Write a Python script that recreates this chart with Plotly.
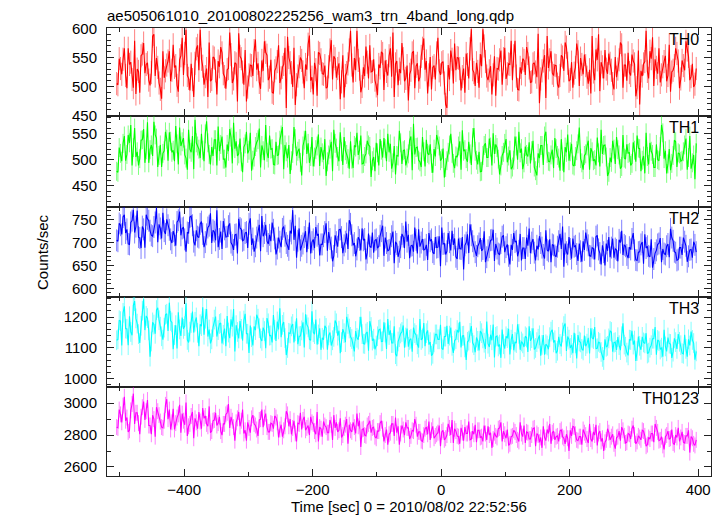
import plotly.graph_objects as go

# ---- data (count rates) ----
# even bins: t = -505, -501, ... ; odd bins: t = -503, -499, ...  (2 s bins)
t_start = -505
t_step = 2

th0_even = [505, 548, 521, 566, 497, 538, 512, 579, 530, 489, 556, 523, 541, 502, 587, 518, 533, 495, 561, 527,
            544, 509, 572, 536, 491, 553, 520, 598, 514, 539, 482, 565, 528, 547, 503, 531, 576, 512, 549, 486,
            534, 558, 517, 529, 593, 506, 541, 474, 552, 525, 563, 499, 537, 518, 581, 540, 496, 527, 559, 511,
            546, 488, 532, 571, 515, 538, 463, 550, 524, 567, 503, 534, 545, 497, 529, 588, 516, 541, 484, 557,
            522, 536, 499, 563, 512, 548, 531, 478, 554, 519, 539, 596, 507, 528, 545, 490, 533, 569, 514, 525,
            547, 501, 538, 560, 494, 526, 553, 517, 482, 544, 530, 575, 509, 536, 521, 558, 497, 540, 516, 566,
            529, 488, 551, 533, 512, 584, 520, 543, 469, 537, 562, 505, 528, 549, 493, 531, 557, 514, 599, 524,
            541, 498, 535, 570, 518, 527, 486, 552, 531, 546, 503, 567, 522, 538, 511, 579, 495, 533, 548, 520,
            557, 507, 539, 525, 591, 513, 544, 480, 532, 561, 519, 536, 498, 554, 527, 568, 509, 542, 523, 574,
            501, 538, 555, 516, 529, 587, 511, 546, 492, 534, 563, 522, 540, 505, 551, 530, 576, 498, 537, 558,
            519, 544, 483, 562, 527, 539, 596, 514, 548, 501, 533, 566, 520, 543, 509, 572, 525, 536, 557, 497,
            545, 528, 563, 511, 539, 504]
th0_odd = [503, 531, 547, 519, 566, 542, 498, 487, 526, 553, 575, 538, 511, 524, 590, 549, 506, 479, 515, 537,
           561, 528, 533, 502, 546, 584, 557, 519, 493, 512, 540, 571, 598, 535, 517, 482, 509, 551, 527, 544,
           568, 522, 496, 531, 555, 513, 539, 592, 548, 503, 474, 520, 536, 562, 529, 507, 545, 578, 554, 516,
           490, 527, 543, 506, 533, 567, 586, 541, 499, 468, 518, 550, 525, 538, 573, 510, 486, 529, 559, 546,
           521, 497, 534, 580, 552, 515, 540, 508, 481, 524, 563, 537, 549, 596, 530, 500, 518, 542, 571, 526,
           511, 485, 532, 557, 545, 519, 566, 593, 539, 502, 523, 548, 514, 476, 528, 561, 535, 509, 552, 583,
           544, 520, 495, 536, 558, 527, 541, 506, 463, 512, 547, 574, 550, 531, 517, 489, 538, 565, 529, 501,
           526, 556, 599, 543, 511, 535, 520, 484, 530, 562, 548, 513, 539, 579, 553, 518, 494, 522, 545, 568,
           532, 508, 541, 516, 471, 527, 554, 587, 546, 523, 537, 504, 519, 551, 576, 540, 512, 498, 533, 560,
           549, 521, 536, 505, 488, 525, 564, 590, 542, 514, 530, 557, 528, 495, 516, 546, 572, 537, 510, 524,
           555, 539, 498, 469, 518, 543, 526, 561, 585, 547, 522, 507, 534, 553, 519, 491, 528, 566, 544, 513,
           536, 578, 552, 517, 499, 531]

th1_even = [478, 523, 497, 545, 510, 532, 489, 560, 515, 502, 538, 494, 571, 519, 507, 547, 486, 528, 512, 553,
            498, 535, 518, 564, 491, 526, 541, 503, 557, 514, 482, 532, 520, 549, 497, 573, 510, 524, 538, 489,
            516, 544, 501, 529, 558, 493, 521, 507, 540, 476, 530, 512, 551, 499, 525, 538, 485, 517, 566, 503,
            520, 491, 534, 509, 547, 482, 515, 528, 498, 562, 507, 521, 470, 537, 511, 494, 543, 505, 526, 488,
            513, 539, 496, 520, 478, 531, 506, 552, 490, 517, 502, 535, 484, 524, 509, 546, 493, 511, 528, 467,
            505, 532, 489, 518, 541, 497, 514, 483, 526, 508, 555, 492, 519, 503, 537, 480, 510, 524, 496, 543,
            487, 512, 529, 475, 506, 538, 498, 521, 485, 514, 549, 493, 507, 526, 481, 516, 502, 534, 490, 560,
            499, 515, 478, 527, 504, 540, 489, 511, 523, 472, 508, 531, 495, 518, 486, 544, 500, 513, 482, 525,
            506, 493, 536, 479, 512, 527, 490, 553, 497, 509, 484, 521, 503, 539, 476, 514, 498, 530, 488, 517,
            561, 494, 508, 526, 481, 515, 500, 542, 487, 511, 528, 469, 504, 536, 492, 519, 483, 547, 501, 512,
            489, 533, 496, 522, 478, 507, 551, 491, 516, 485, 529, 498, 566, 502, 474, 520, 493, 537, 486, 511,
            499, 528, 481, 545, 494, 463]
th1_odd = [476, 512, 531, 498, 547, 566, 523, 505, 489, 537, 558, 519, 494, 528, 572, 541, 508, 486, 517, 539,
           552, 514, 497, 530, 561, 534, 509, 481, 520, 545, 576, 526, 503, 518, 549, 532, 491, 507, 538, 563,
           529, 501, 485, 516, 543, 570, 535, 511, 496, 524, 553, 518, 479, 505, 533, 559, 527, 499, 514, 546,
           521, 490, 508, 537, 562, 528, 503, 473, 512, 540, 516, 495, 526, 555, 531, 506, 487, 519, 548, 524,
           500, 469, 509, 534, 557, 522, 497, 515, 543, 510, 483, 501, 527, 551, 518, 492, 506, 536, 525, 498,
           478, 513, 539, 504, 521, 549, 530, 494, 472, 507, 532, 517, 489, 511, 544, 568, 523, 499, 486, 515,
           538, 509, 493, 520, 547, 526, 502, 466, 498, 528, 512, 484, 505, 535, 556, 519, 496, 511, 542, 516,
           491, 477, 508, 531, 504, 524, 550, 529, 501, 488, 514, 539, 507, 482, 499, 526, 553, 521, 494, 510,
           533, 517, 486, 470, 503, 527, 545, 512, 496, 519, 541, 508, 479, 497, 524, 548, 515, 490, 506, 530,
           502, 481, 511, 536, 522, 498, 489, 513, 557, 527, 505, 476, 495, 520, 543, 509, 487, 503, 529, 514,
           493, 518, 546, 521, 499, 474, 506, 532, 510, 485, 500, 525, 551, 517, 492, 480, 508, 534, 513, 497,
           515, 540, 504, 483, 509, 531]

th2_even = [705, 742, 718, 761, 729, 696, 748, 722, 770, 710, 735, 689, 752, 726, 714, 744, 701, 731, 765, 719,
            738, 707, 725, 693, 749, 716, 733, 680, 721, 758, 702, 727, 711, 746, 690, 718, 737, 699, 724, 771,
            708, 686, 729, 713, 742, 695, 717, 676, 732, 704, 721, 688, 753, 709, 692, 726, 681, 714, 739, 697,
            703, 728, 674, 711, 690, 735, 699, 684, 720, 706, 667, 731, 693, 712, 679, 744, 701, 688, 715, 672,
            696, 723, 682, 708, 659, 716, 691, 729, 677, 702, 686, 741, 694, 670, 712, 683, 705, 663, 720, 689,
            678, 707, 692, 725, 671, 699, 684, 714, 655, 697, 680, 719, 688, 702, 666, 694, 733, 676, 691, 708,
            685, 662, 703, 679, 712, 690, 648, 697, 674, 721, 683, 695, 669, 709, 686, 641, 700, 677, 716, 692,
            671, 698, 682, 725, 668, 690, 706, 660, 687, 674, 713, 679, 696, 652, 684, 701, 670, 719, 688, 664,
            693, 677, 708, 661, 685, 699, 673, 727, 681, 657, 694, 669, 703, 686, 647, 679, 712, 665, 691, 675,
            698, 658, 684, 705, 671, 689, 663, 716, 677, 694, 650, 682, 668, 709, 687, 659, 700, 673, 692, 666,
            685, 721, 662, 679, 696, 654, 688, 671, 707, 664, 683, 698, 657, 676, 692, 668, 711, 680, 661, 689,
            673, 702, 658, 684, 667, 695]
th2_odd = [703, 738, 756, 721, 697, 744, 772, 735, 712, 688, 729, 761, 748, 716, 734, 776, 740, 709, 725, 751,
           728, 699, 716, 745, 768, 731, 707, 722, 756, 738, 694, 713, 741, 719, 701, 733, 764, 727, 705, 690,
           724, 747, 712, 736, 700, 684, 718, 752, 729, 706, 723, 741, 695, 680, 711, 739, 758, 721, 703, 717,
           744, 709, 687, 702, 730, 715, 693, 726, 771, 737, 704, 683, 698, 725, 710, 676, 707, 734, 719, 696,
           714, 742, 723, 689, 671, 701, 728, 712, 694, 720, 749, 716, 699, 685, 706, 731, 708, 678, 692, 722,
           705, 688, 715, 737, 711, 682, 697, 724, 702, 669, 690, 713, 746, 717, 693, 680, 706, 729, 700, 684,
           695, 721, 707, 675, 689, 714, 733, 698, 681, 701, 726, 709, 664, 687, 712, 694, 718, 740, 703, 679,
           692, 710, 686, 657, 683, 705, 728, 697, 676, 699, 716, 690, 671, 695, 721, 704, 682, 661, 688, 711,
           731, 700, 678, 693, 714, 689, 665, 684, 707, 696, 672, 691, 719, 735, 698, 674, 686, 709, 693, 660,
           681, 703, 722, 694, 670, 687, 713, 685, 652, 679, 698, 712, 689, 667, 684, 706, 726, 695, 673, 690,
           708, 683, 661, 680, 701, 718, 692, 669, 645, 677, 696, 710, 686, 674, 697, 730, 704, 678, 663, 689,
           711, 693, 670, 685, 702, 679]

th3_even = [1125, 1190, 1108, 1235, 1162, 1203, 1141, 1252, 1179, 1116, 1221, 1158, 1197, 1072, 1183, 1146, 1230, 1169, 1127, 1208,
            1155, 1188, 1096, 1174, 1216, 1139, 1162, 1245, 1118, 1181, 1150, 1199, 1106, 1171, 1143, 1226, 1160, 1128, 1192, 1137,
            1178, 1115, 1163, 1204, 1132, 1169, 1089, 1152, 1187, 1124, 1211, 1146, 1173, 1108, 1158, 1195, 1131, 1166, 1099, 1180,
            1141, 1207, 1123, 1160, 1135, 1184, 1077, 1149, 1170, 1118, 1196, 1138, 1157, 1102, 1176, 1128, 1219, 1145, 1111, 1164,
            1133, 1172, 1094, 1150, 1125, 1189, 1140, 1083, 1161, 1119, 1178, 1136, 1104, 1155, 1127, 1201, 1114, 1147, 1091, 1168,
            1130, 1108, 1159, 1121, 1183, 1097, 1142, 1116, 1170, 1073, 1135, 1152, 1101, 1163, 1126, 1088, 1148, 1112, 1194, 1131,
            1106, 1157, 1119, 1081, 1144, 1128, 1175, 1095, 1137, 1113, 1166, 1084, 1129, 1150, 1102, 1140, 1061, 1124, 1171, 1109,
            1134, 1092, 1148, 1117, 1186, 1103, 1125, 1069, 1139, 1111, 1160, 1098, 1132, 1079, 1145, 1120, 1177, 1094, 1115, 1138,
            1087, 1123, 1164, 1100, 1130, 1075, 1142, 1112, 1096, 1153, 1118, 1083, 1136, 1105, 1171, 1090, 1127, 1110, 1149, 1066,
            1121, 1097, 1140, 1114, 1082, 1133, 1168, 1099, 1116, 1071, 1128, 1107, 1155, 1088, 1119, 1135, 1093, 1180, 1104, 1076,
            1126, 1111, 1058, 1137, 1094, 1118, 1148, 1085, 1109, 1130, 1078, 1122, 1101, 1159, 1089, 1114, 1068, 1131, 1097, 1120,
            1083, 1143, 1072, 1108, 1126, 1062]
th3_odd = [1128, 1187, 1214, 1163, 1109, 1152, 1238, 1196, 1145, 1172, 1259, 1204, 1157, 1121, 1176, 1223, 1190, 1138, 1166, 1211,
           1247, 1183, 1142, 1098, 1160, 1199, 1171, 1126, 1153, 1218, 1185, 1149, 1177, 1232, 1195, 1137, 1115, 1168, 1202, 1158,
           1181, 1143, 1106, 1150, 1193, 1226, 1174, 1131, 1162, 1189, 1146, 1084, 1135, 1170, 1208, 1164, 1123, 1155, 1197, 1140,
           1118, 1159, 1186, 1229, 1175, 1132, 1100, 1147, 1178, 1154, 1112, 1139, 1183, 1209, 1167, 1125, 1151, 1192, 1144, 1094,
           1127, 1165, 1141, 1108, 1136, 1180, 1156, 1119, 1148, 1201, 1163, 1129, 1089, 1133, 1169, 1145, 1113, 1152, 1187, 1124,
           1096, 1138, 1161, 1122, 1150, 1194, 1157, 1116, 1080, 1121, 1147, 1173, 1134, 1104, 1130, 1166, 1142, 1101, 1126, 1181,
           1148, 1111, 1075, 1118, 1144, 1128, 1099, 1137, 1172, 1140, 1107, 1124, 1158, 1185, 1139, 1102, 1120, 1149, 1117, 1086,
           1123, 1155, 1131, 1097, 1114, 1143, 1176, 1136, 1105, 1068, 1112, 1138, 1162, 1127, 1093, 1116, 1146, 1121, 1103, 1134,
           1170, 1132, 1095, 1119, 1141, 1110, 1078, 1108, 1135, 1159, 1125, 1091, 1113, 1150, 1179, 1137, 1100, 1083, 1115, 1142,
           1118, 1092, 1106, 1133, 1164, 1129, 1098, 1120, 1087, 1061, 1104, 1131, 1152, 1117, 1094, 1109, 1138, 1111, 1085, 1127,
           1156, 1124, 1090, 1107, 1136, 1115, 1082, 1101, 1130, 1168, 1126, 1095, 1072, 1105, 1134, 1113, 1088, 1119, 1145, 1109,
           1081, 1097, 1128, 1153, 1116, 1089]

th0123_even = [2850, 2960, 2880, 3040, 2910, 2830, 2995, 2870, 2940, 2805, 2975, 2895, 3020, 2860, 2925, 2790, 2950, 2885, 2845, 2990,
               2900, 2835, 2965, 2875, 2930, 2815, 2890, 3005, 2855, 2920, 2780, 2880, 2945, 2840, 2905, 2870, 2980, 2825, 2895, 2860,
               2915, 2800, 2870, 2940, 2845, 2890, 2765, 2905, 2855, 2960, 2830, 2880, 2815, 2925, 2860, 2795, 2900, 2850, 2935, 2820,
               2875, 2840, 2910, 2785, 2865, 2830, 2950, 2855, 2805, 2890, 2760, 2870, 2835, 2915, 2845, 2800, 2880, 2825, 2945, 2850,
               2790, 2860, 2815, 2895, 2770, 2845, 2820, 2905, 2800, 2865, 2745, 2830, 2880, 2810, 2855, 2725, 2840, 2795, 2870, 2815,
               2850, 2780, 2825, 2890, 2760, 2835, 2805, 2870, 2795, 2815, 2740, 2860, 2800, 2845, 2775, 2830, 2900, 2790, 2820, 2760,
               2840, 2805, 2770, 2855, 2795, 2815, 2730, 2830, 2780, 2870, 2800, 2750, 2825, 2790, 2845, 2765, 2810, 2885, 2775, 2805,
               2755, 2830, 2790, 2860, 2770, 2800, 2720, 2815, 2785, 2845, 2760, 2805, 2835, 2745, 2795, 2820, 2770, 2880, 2790, 2750,
               2815, 2775, 2840, 2730, 2800, 2785, 2855, 2765, 2810, 2745, 2825, 2790, 2760, 2835, 2780, 2805, 2700, 2795, 2850, 2770,
               2790, 2740, 2815, 2775, 2870, 2760, 2800, 2735, 2825, 2780, 2755, 2840, 2770, 2805, 2715, 2790, 2765, 2830, 2750, 2810,
               2775, 2860, 2745, 2795, 2770, 2825, 2730, 2785, 2810, 2755, 2845, 2765, 2790, 2710, 2800, 2775, 2835, 2740, 2785, 2760,
               2820, 2750, 2795, 2690, 2780, 2735]
th0123_odd = [2845, 2930, 2985, 2890, 2820, 2955, 3060, 2940, 2875, 2915, 3010, 2950, 2860, 2805, 2900, 2975, 2925, 2850, 2890, 3025,
              2960, 2880, 2835, 2910, 2990, 2935, 2865, 2795, 2870, 2945, 2905, 2840, 2885, 2970, 2920, 2855, 2815, 2890, 2940, 2875,
              2825, 2870, 2930, 2995, 2915, 2850, 2880, 2945, 2890, 2810, 2765, 2845, 2905, 2870, 2835, 2895, 2960, 2910, 2850, 2820,
              2870, 2920, 2880, 2835, 2790, 2855, 2930, 2900, 2845, 2810, 2875, 2940, 2895, 2830, 2860, 2915, 2870, 2805, 2760, 2840,
              2885, 2850, 2815, 2865, 2925, 2880, 2830, 2785, 2845, 2900, 2865, 2820, 2850, 2935, 2890, 2835, 2800, 2860, 2890, 2845,
              2790, 2825, 2875, 2840, 2800, 2740, 2815, 2870, 2910, 2855, 2810, 2835, 2880, 2845, 2795, 2825, 2865, 2820, 2765, 2800,
              2850, 2885, 2830, 2780, 2805, 2860, 2820, 2770, 2800, 2845, 2895, 2840, 2795, 2745, 2815, 2850, 2810, 2770, 2825, 2865,
              2830, 2785, 2760, 2810, 2855, 2815, 2775, 2795, 2840, 2880, 2825, 2780, 2735, 2790, 2830, 2800, 2760, 2810, 2860, 2820,
              2775, 2800, 2845, 2810, 2755, 2720, 2785, 2835, 2870, 2815, 2770, 2795, 2825, 2790, 2745, 2780, 2830, 2855, 2805, 2765,
              2790, 2835, 2800, 2750, 2775, 2820, 2865, 2810, 2760, 2700, 2770, 2815, 2790, 2745, 2785, 2825, 2850, 2795, 2755, 2805,
              2840, 2800, 2760, 2785, 2830, 2795, 2740, 2775, 2810, 2870, 2820, 2770, 2735, 2790, 2825, 2780, 2750, 2800, 2845, 2785,
              2755, 2795, 2830, 2790, 2745, 2770]

errors = [20, 18, 24, 32, 50]

panel_names = ["TH0", "TH1", "TH2", "TH3", "TH0123"]
series_even = [th0_even, th1_even, th2_even, th3_even, th0123_even]
series_odd = [th0_odd, th1_odd, th2_odd, th3_odd, th0123_odd]
y_ranges = [[449, 601], [411, 583], [582, 779], [975, 1267], [2543, 3105]]
y_dticks = [50, 50, 50, 100, 200]
y_minor = [10, 10, 10, 20, 100]
x_range = [-520, 420]

title_text = "ae505061010_20100802225256_wam3_trn_4band_long.qdp"
x_title = "Time [sec] 0 = 2010/08/02 22:52:56"
y_title = "Counts/sec"

# ---- style ----
colors = ["#ff0000", "#00ff00", "#0000ff", "#00ffff", "#ff00ff"]
err_colors = ["rgba(255,0,0,0.5)", "rgba(0,255,0,0.5)", "rgba(0,0,255,0.5)",
              "rgba(0,255,255,0.5)", "rgba(255,0,255,0.5)"]

W, H = 723, 516
ML, MR, MT, MB = 107, 12, 28, 40
plot_h = H - MT - MB
bounds_px = [28, 116, 206.5, 296.5, 386.5, 476]  # panel edges (pixels from top)
FONT = "Liberation Sans, Arial, Helvetica, sans-serif"
AX_COL = "#222222"

def py(px):
    return (H - MB - px) / plot_h

fig = go.Figure()
layout_axes = {}
annotations = []
for i, name in enumerate(panel_names):
    k = i + 1
    vals = []
    for e, o in zip(series_even[i], series_odd[i]):
        vals.extend([e, o])
    xs = [t_start + t_step * j for j in range(len(vals))]
    fig.add_trace(go.Scatter(
        x=xs, y=vals, mode="lines",
        line=dict(color=colors[i], width=1.1),
        error_y=dict(type="constant", value=errors[i], color=err_colors[i],
                     thickness=1, width=0),
        xaxis="x" if k == 1 else f"x{k}",
        yaxis="y" if k == 1 else f"y{k}",
        showlegend=False, hoverinfo="skip",
    ))
    dom = [max(0.0, py(bounds_px[i + 1])), min(1.0, py(bounds_px[i]))]
    xname = "xaxis" if k == 1 else f"xaxis{k}"
    yname = "yaxis" if k == 1 else f"yaxis{k}"
    layout_axes[xname] = dict(
        domain=[0, 1], anchor="y" if k == 1 else f"y{k}",
        range=x_range, showline=True, linecolor=AX_COL, linewidth=1,
        mirror="ticks", ticks="inside", ticklen=7, tickcolor=AX_COL, tickwidth=1,
        dtick=200, tick0=0,
        minor=dict(dtick=100, ticklen=4, ticks="inside", tickcolor=AX_COL, showgrid=False),
        showgrid=False, zeroline=False,
        showticklabels=(k == 5),
        tickfont=dict(family=FONT, size=15, color="black"),
        matches=None if k == 1 else "x",
    )
    layout_axes[yname] = dict(
        domain=dom, anchor="x" if k == 1 else f"x{k}",
        range=y_ranges[i], showline=True, linecolor=AX_COL, linewidth=1,
        mirror="ticks", ticks="inside", ticklen=7, tickcolor=AX_COL, tickwidth=1,
        dtick=y_dticks[i], tick0=0,
        minor=dict(dtick=y_minor[i], ticklen=4, ticks="inside", tickcolor=AX_COL, showgrid=False),
        showgrid=False, zeroline=False,
        tickfont=dict(family=FONT, size=15, color="black"),
        ticklabelstandoff=6,
    )
    annotations.append(dict(
        text=name, xref="paper", yref="paper", x=0.984, y=dom[1],
        xanchor="right", yanchor="top", showarrow=False, yshift=-1,
        font=dict(family=FONT, size=16, color="black"),
    ))

annotations.append(dict(
    text=title_text, xref="paper", yref="paper", x=0, y=1,
    xanchor="left", yanchor="bottom", showarrow=False, yshift=2, xshift=-2,
    font=dict(family=FONT, size=15, color="black"),
))
annotations.append(dict(
    text=x_title, xref="paper", yref="paper", x=0.5, y=0,
    xanchor="center", yanchor="middle", showarrow=False, yshift=-30,
    font=dict(family=FONT, size=15, color="black"),
))
annotations.append(dict(
    text=y_title, xref="paper", yref="paper", x=(42 - ML) / (W - ML - MR), y=0.5,
    xanchor="center", yanchor="middle", showarrow=False, textangle=-90,
    font=dict(family=FONT, size=15, color="black"),
))

fig.update_layout(
    width=W, height=H,
    margin=dict(l=ML, r=MR, t=MT, b=MB),
    paper_bgcolor="white", plot_bgcolor="white",
    annotations=annotations,
    **layout_axes,
)

fig.write_html("out.html", config={"displayModeBar": False},
               post_script="document.body.style.margin='0px';")
